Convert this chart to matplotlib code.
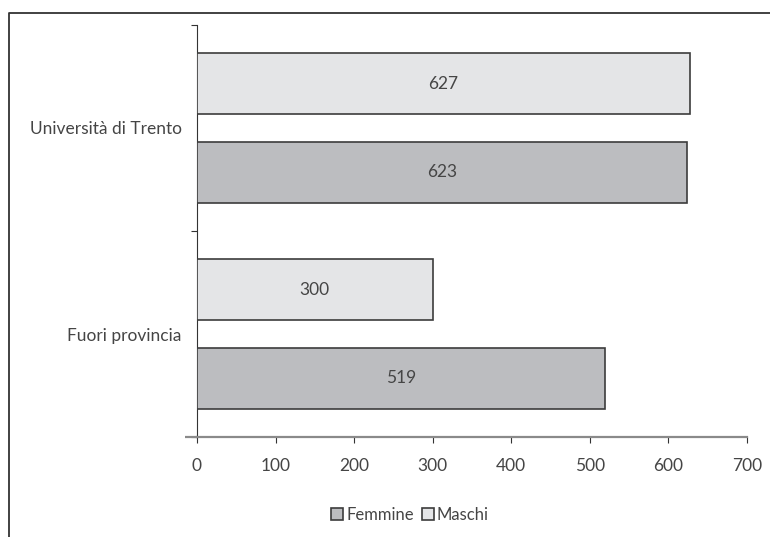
import matplotlib
matplotlib.use("Agg")
import matplotlib.pyplot as plt
from matplotlib.lines import Line2D
from matplotlib.patches import Patch

# data
categories = ["Fuori provincia", "Università di Trento"]
maschi = [300, 627]
femmine = [519, 623]
xticks = [0, 100, 200, 300, 400, 500, 600, 700]

TXT = "#454545"
C_M = "#e4e5e7"
C_F = "#bcbdc0"
EDGE = "#3c3c3c"

plt.rcParams['font.family'] = ['Lato', 'DejaVu Sans']
plt.rcParams['font.weight'] = 'normal'

W, H = 770, 537
fig = plt.figure(figsize=(W / 100, H / 100), dpi=100)
ax = fig.add_axes([197 / W, (H - 437) / H, 550 / W, 412 / H])

off, h = 0.214, 0.296
ypos = list(range(len(categories)))
ax.barh([y + off for y in ypos], maschi, height=h, color=C_M,
        edgecolor=EDGE, linewidth=1.2, zorder=3)
ax.barh([y - off for y in ypos], femmine, height=h, color=C_F,
        edgecolor=EDGE, linewidth=1.2, zorder=3)

for y, m, f in zip(ypos, maschi, femmine):
    ax.text(m / 2, y + off, str(m), ha='center', va='center',
            fontsize=12.5, color=TXT, zorder=4)
    ax.text(f / 2, y - off, str(f), ha='center', va='center',
            fontsize=12.5, color=TXT, zorder=4)

ax.set_xlim(0, 700)
ax.set_ylim(-0.5, len(categories) - 0.5)

ax.set_xticks(xticks)
ax.set_xticklabels([str(v) for v in xticks], fontsize=12.5, color=TXT)
ax.tick_params(axis='x', direction='out', length=4, width=0.8,
               color='#333333', pad=11)

ax.set_yticks([-0.5, 0.5, 1.5])
ax.set_yticklabels([])
ax.set_yticks(ypos, minor=True)
ax.set_yticklabels(categories, minor=True, fontsize=12.5, color=TXT)
ax.tick_params(axis='y', which='major', direction='out', length=4,
               width=0.8, color='#333333')
ax.tick_params(axis='y', which='minor', length=0, pad=11)

for s in ['top', 'right']:
    ax.spines[s].set_visible(False)
ax.spines['left'].set_color('#333333')
ax.spines['left'].set_linewidth(0.8)
ax.spines['bottom'].set_color('#8a8a8a')
ax.spines['bottom'].set_linewidth(1.6)
ax.plot([-15, 0], [-0.5, -0.5], color='#8a8a8a', lw=1.6, clip_on=False,
        solid_capstyle='butt')

handles = [Patch(facecolor=C_F, edgecolor=EDGE, linewidth=1.2),
           Patch(facecolor=C_M, edgecolor=EDGE, linewidth=1.2)]
fig.legend(handles, ["Femmine", "Maschi"], loc='center',
           bbox_to_anchor=(410 / W, (H - 515) / H), ncol=2, frameon=False,
           fontsize=12, handlelength=0.7, handleheight=0.75,
           handletextpad=0.2, columnspacing=0.5, labelcolor=TXT)

# outer frame (left and top only)
fig.add_artist(Line2D([9 / W, 9 / W, 1.0], [0.0, 1 - 13 / H, 1 - 13 / H],
                      transform=fig.transFigure, color='#333333', lw=1.3))

fig.savefig("out.png", dpi=100)
